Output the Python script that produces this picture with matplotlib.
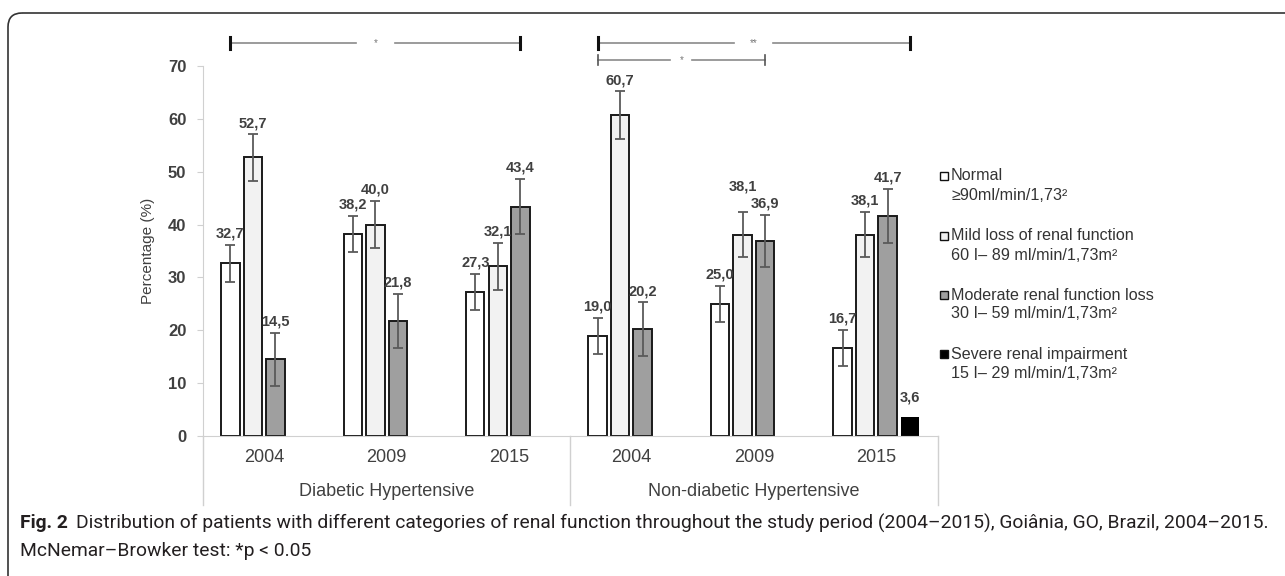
import matplotlib
matplotlib.use("Agg")
import matplotlib.pyplot as plt
import matplotlib.transforms as mtrans
from matplotlib.patches import FancyBboxPatch, Rectangle
from matplotlib import font_manager
import numpy as np

plt.rcParams['font.family'] = ['Liberation Sans', 'DejaVu Sans']

# data
years = ['2004', '2009', '2015', '2004', '2009', '2015']
groups = ['Diabetic Hypertensive', 'Non-diabetic Hypertensive']

normal = [32.7, 38.2, 27.3, 19.0, 25.0, 16.7]
mild = [52.7, 40.0, 32.1, 60.7, 38.1, 38.1]
moderate = [14.5, 21.8, 43.4, 20.2, 36.9, 41.7]
severe = [0, 0, 0, 0, 0, 3.6]

normal_err = [3.5, 3.4, 3.4, 3.4, 3.4, 3.4]
mild_err = [4.4, 4.5, 4.5, 4.5, 4.3, 4.3]
moderate_err = [5.0, 5.1, 5.2, 5.1, 5.0, 5.1]
severe_err = [0, 0, 0, 0, 0, 0]

legend_titles = ['Normal', 'Mild loss of renal function',
                 'Moderate renal function loss', 'Severe renal impairment']
legend_ranges = ['≥90ml/min/1,73²', '60 I– 89 ml/min/1,73m²',
                 '30 I– 59 ml/min/1,73m²', '15 I– 29 ml/min/1,73m²']

# (series, category) -> (series, category), star text, level
brackets = [((0, 0), (2, 2), '*', 'top'),
            ((0, 3), (3, 5), '**', 'top'),
            ((0, 3), (2, 4), '*', 'low')]

series = [normal, mild, moderate, severe]
errors = [normal_err, mild_err, moderate_err, severe_err]
fills = ['#ffffff', '#f2f2f2', '#9f9f9f', '#000000']

# value labels that sit higher to clear a neighbour (series, category): points
label_lift = {(1, 4): 10}

W, H = 1285, 576
fig = plt.figure(figsize=(W / 100, H / 100), dpi=100)

# overlay in pixel coordinates for the frame, legend and caption
bg = fig.add_axes([0, 0, 1, 1], zorder=0)
bg.set_xlim(0, W)
bg.set_ylim(H, 0)
bg.axis('off')

ax = fig.add_axes([203 / W, 1 - 436 / H, 734.5 / W, 370 / H], zorder=1)
ax.patch.set_alpha(0)

x = np.arange(len(years))
step = 0.184
bw = 0.151
grey = '#404040'

def bar_x(s, c):
    return c + (s - 1.5) * step

for s, (vals, errs, fc) in enumerate(zip(series, errors, fills)):
    xs = x + (s - 1.5) * step
    lw = 0 if s == 3 else 1.4
    ax.bar(xs, vals, bw, color=fc, edgecolor='#1a1a1a', linewidth=lw, zorder=2)
    for c, (xi, v, e) in enumerate(zip(xs, vals, errs)):
        if v <= 0:
            continue
        if e > 0:
            ax.errorbar(xi, v, yerr=e, fmt='none', ecolor='#5a5a5a',
                        elinewidth=1.3, capsize=3.6, capthick=1.3, zorder=3)
        off = (3 if e > 0 else 9) + label_lift.get((s, c), 0)
        ax.annotate(f"{v:.1f}".replace('.', ','), (xi, v + e),
                    xytext=(0, off), textcoords='offset points',
                    ha='center', va='bottom', fontsize=10.5,
                    fontweight='bold', color=grey)

ax.set_xlim(-0.5, 5.5)
ax.set_ylim(0, 70)
ax.set_yticks(range(0, 71, 10))
ax.set_xticks(x)
ax.set_xticklabels(years, fontsize=13, color=grey)
ax.tick_params(axis='x', length=0, pad=9)
ax.tick_params(axis='y', length=4, color='#d0d0d0', pad=8, labelsize=12,
               labelcolor=grey)
for lab in ax.get_yticklabels():
    lab.set_fontweight('bold')
for side in ['top', 'right']:
    ax.spines[side].set_visible(False)
for side in ['left', 'bottom']:
    ax.spines[side].set_color('#d0d0d0')
ax.set_ylabel('Percentage (%)', fontsize=11, color=grey, labelpad=9)

# category axis dividers and group names
bt = mtrans.blended_transform_factory(ax.transData, ax.transAxes)
for xd in [-0.5, 2.5, 5.5]:
    ax.plot([xd, xd], [0, -0.186], transform=bt, color='#d0d0d0', lw=1,
            clip_on=False)
for g, name in enumerate(groups):
    ax.text(g * 3 + 1, -0.151, name, transform=bt, ha='center', va='center',
            fontsize=13, color=grey)

# significance brackets
for (s1, c1), (s2, c2), star, level in brackets:
    x1, x2 = bar_x(s1, c1), bar_x(s2, c2)
    xm = (x1 + x2) / 2
    if level == 'top':
        y, gap, th, tc, tw = 74.35, 0.16, 1.1, '#111111', 2.2
    else:
        y, gap, th, tc, tw = 71.1, 0.09, 0.95, '#555555', 1.2
    ax.plot([x1, xm - gap], [y, y], color='#8a8a8a', lw=1.2, clip_on=False)
    ax.plot([xm + gap, x2], [y, y], color='#8a8a8a', lw=1.2, clip_on=False)
    for xe in [x1, x2]:
        ax.plot([xe, xe], [y - th, y + th], color=tc, lw=tw, clip_on=False)
    ax.text(xm, y, star, ha='center', va='center', fontsize=7,
            color='#777777', clip_on=False)

# legend
leg_y = [176, 236, 295, 354]
for fc, t1, t2, yy in zip(fills, legend_titles, legend_ranges, leg_y):
    bg.add_patch(Rectangle((940, yy - 4), 8, 8, facecolor=fc,
                           edgecolor='#111111', lw=1))
    bg.text(951, yy, t1, va='center', ha='left', fontsize=11.6, color='#333333')
    bg.text(951, yy + 19, t2, va='center', ha='left', fontsize=11.6,
            color='#333333')

# frame and caption
bg.add_patch(FancyBboxPatch((8, 13), 1300, 580,
                            boxstyle='round,pad=0,rounding_size=14',
                            fc='none', ec='#333333', lw=1.2))

names = {f.name for f in font_manager.fontManager.ttflist}
cap_font = 'Liberation Sans Narrow' if 'Liberation Sans Narrow' in names else 'Roboto'
cap_col = '#231f20'
fig_lab = bg.text(20, 523, 'Fig. 2', fontsize=13.9, fontweight='bold',
                  family=cap_font, color=cap_col, va='center')
bg.annotate('Distribution of patients with different categories of renal function '
            'throughout the study period (2004–2015), Goiânia, GO, Brazil, 2004–2015.',
            xy=(1, 0.5), xycoords=fig_lab, xytext=(6, 0),
            textcoords='offset points', va='center', fontsize=13.9,
            family=cap_font, color=cap_col)
bg.text(20, 551, 'McNemar–Browker test: *p < 0.05', fontsize=13.9,
        family=cap_font, color=cap_col, va='center')

fig.savefig('out.png', dpi=100)
